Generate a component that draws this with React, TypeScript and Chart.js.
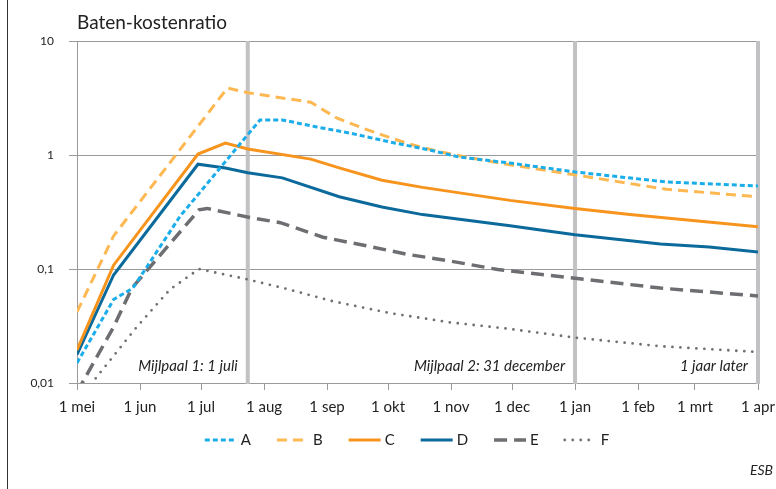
import React, { useEffect, useRef } from "react";
import { Chart, registerables } from "chart.js";

Chart.register(...registerables);

const monthDays = [0, 31, 61, 92, 123, 153, 184, 214, 245, 276, 304, 335];
const monthLabels = ["1 mei", "1 jun", "1 jul", "1 aug", "1 sep", "1 okt", "1 nov", "1 dec", "1 jan", "1 feb", "1 mrt", "1 apr"];
const yTickValues = [0.01, 0.1, 1, 10];
const yTickLabels = ["0,01", "0,1", "1", "10"];
const milestoneDays = [84, 245, 335];
const milestoneLabels = ["Mijlpaal 1: 1 juli", "Mijlpaal 2: 31 december", "1 jaar later"];
const seriesNames = ["A", "B", "C", "D", "E", "F"];

const daysA = [0, 18, 27.5, 50.7, 90, 101, 118, 134, 154, 174, 188, 213, 245, 290, 335];
const valuesA = [0.015, 0.054, 0.068, 0.29, 2.03, 2.03, 1.76, 1.56, 1.3, 1.1, 0.96, 0.85, 0.71, 0.58, 0.535];

const daysB = [0, 18, 74, 84, 115, 128, 143, 162, 177, 190, 213, 245, 290, 335];
const valuesB = [0.042, 0.195, 3.87, 3.52, 2.9, 2.1, 1.66, 1.27, 1.08, 0.97, 0.82, 0.67, 0.5, 0.43];

const daysC = [0, 18, 59.5, 73, 84, 115, 129, 150, 170, 213, 245, 272, 335];
const valuesC = [0.0195, 0.108, 1.02, 1.27, 1.13, 0.92, 0.77, 0.6, 0.52, 0.4, 0.34, 0.3, 0.235];

const daysD = [0, 18, 59.5, 73, 84, 101, 129, 150, 170, 213, 228, 245, 287, 311, 335];
const valuesD = [0.0177, 0.0886, 0.83, 0.77, 0.7, 0.63, 0.43, 0.35, 0.3, 0.24, 0.22, 0.2, 0.166, 0.156, 0.141];

const daysE = [0, 18, 27, 60, 64, 85, 100, 121, 143, 162, 184, 207, 245, 287, 335];
const valuesE = [0.0083, 0.031, 0.068, 0.33, 0.34, 0.283, 0.255, 0.19, 0.159, 0.135, 0.117, 0.099, 0.083, 0.068, 0.058];

const daysF = [0, 9.7, 29.4, 45.7, 60, 84, 103, 126, 154, 183.5, 211.5, 245, 287, 335];
const valuesF = [0.0065, 0.0113, 0.031, 0.066, 0.1, 0.081, 0.067, 0.052, 0.041, 0.034, 0.03, 0.025, 0.021, 0.0187];

const FONT = "Lato, 'Open Sans', sans-serif";

function pts(days: number[], vals: number[]) {
  return days.map((d, i) => ({ x: d, y: vals[i] }));
}

export default function App() {
  const ref = useRef<HTMLCanvasElement | null>(null);

  useEffect(() => {
    if (!ref.current) return;

    const overlay = {
      id: "overlay",
      beforeDatasetsDraw(chart: any) {
        const { ctx, chartArea, scales } = chart;
        ctx.save();
        milestoneDays.forEach((d, i) => {
          const px = scales.x.getPixelForValue(d);
          ctx.fillStyle = "#C2C2C4";
          ctx.fillRect(px - 2, chartArea.top, 4, chartArea.bottom - chartArea.top + 1);
          ctx.fillStyle = "#222";
          ctx.font = `italic 15px ${FONT}`;
          ctx.textAlign = "right";
          ctx.textBaseline = "middle";
          ctx.fillText(milestoneLabels[i], px - 10, chartArea.bottom - 17);
        });
        ctx.restore();
      },
      afterDraw(chart: any) {
        const { ctx, chartArea } = chart;
        ctx.save();
        // left frame line
        ctx.fillStyle = "#333";
        ctx.fillRect(7, 0, 1, chart.height);
        // title
        ctx.fillStyle = "#222";
        ctx.font = `19px ${FONT}`;
        ctx.textAlign = "left";
        ctx.textBaseline = "middle";
        ctx.fillText("Baten-kostenratio", chartArea.left, 23);
        // legend
        const ds = chart.data.datasets;
        ctx.font = `15px ${FONT}`;
        const sampleW = 32;
        const gap = 4;
        const spacing = 26;
        const widths = ds.map((d: any) => sampleW + gap + ctx.measureText(d.label).width);
        const total = widths.reduce((a: number, b: number) => a + b, 0) + spacing * (ds.length - 1);
        let x = 407 - total / 2;
        const y = 440;
        ds.forEach((d: any, i: number) => {
          ctx.save();
          ctx.strokeStyle = d.borderColor;
          ctx.lineWidth = d.borderWidth;
          ctx.lineCap = d.borderCapStyle || "butt";
          ctx.setLineDash(d.borderDash || []);
          ctx.beginPath();
          ctx.moveTo(x, y);
          ctx.lineTo(x + sampleW, y);
          ctx.stroke();
          ctx.restore();
          ctx.fillStyle = "#222";
          ctx.textAlign = "left";
          ctx.textBaseline = "middle";
          ctx.fillText(d.label, x + sampleW + gap, y);
          x += widths[i] + spacing;
        });
        // source
        ctx.font = `italic 14px ${FONT}`;
        ctx.textAlign = "right";
        ctx.fillText("ESB", 773, 470);
        ctx.restore();
      },
    };

    const chart = new Chart(ref.current, {
      type: "line",
      data: {
        datasets: [
          { label: seriesNames[0], data: pts(daysA, valuesA), borderColor: "#1AADEA", borderWidth: 3, borderDash: [5, 3] },
          { label: seriesNames[1], data: pts(daysB, valuesB), borderColor: "#FDB852", borderWidth: 3, borderDash: [10, 6] },
          { label: seriesNames[2], data: pts(daysC, valuesC), borderColor: "#F7941E", borderWidth: 3 },
          { label: seriesNames[3], data: pts(daysD, valuesD), borderColor: "#0B6A9B", borderWidth: 3 },
          { label: seriesNames[4], data: pts(daysE, valuesE), borderColor: "#6D6E71", borderWidth: 3.5, borderDash: [13, 7] },
          { label: seriesNames[5], data: pts(daysF, valuesF), borderColor: "#707073", borderWidth: 2.8, borderDash: [0, 8], borderCapStyle: "round" },
        ] as any,
      },
      options: {
        animation: false,
        responsive: false,
        devicePixelRatio: 1,
        parsing: false as any,
        layout: { padding: { left: 0, right: 18, top: 41, bottom: 66 } },
        elements: { point: { radius: 0 }, line: { tension: 0, fill: false } },
        plugins: { legend: { display: false }, tooltip: { enabled: false }, title: { display: false } },
        scales: {
          x: {
            type: "linear",
            min: 0,
            max: 335,
            afterBuildTicks: (s: any) => {
              s.ticks = monthDays.map((v) => ({ value: v }));
            },
            afterFit: (s: any) => {
              s.height = 40;
              s.paddingLeft = 0;
              s.paddingRight = 0;
            },
            ticks: {
              autoSkip: false,
              maxRotation: 0,
              padding: 8,
              color: "#222",
              font: { family: FONT, size: 15 },
              callback: (_v: any, i: number) => monthLabels[i],
            },
            grid: { drawOnChartArea: false, drawTicks: true, tickLength: 7, color: "#9A9A9A" },
            border: { display: true, color: "#9A9A9A" },
          },
          y: {
            type: "logarithmic",
            min: 0.01,
            max: 10,
            afterBuildTicks: (s: any) => {
              s.ticks = yTickValues.map((v) => ({ value: v }));
            },
            afterFit: (s: any) => {
              s.width = 77;
              s.paddingTop = 0;
              s.paddingBottom = 0;
            },
            ticks: {
              padding: 15,
              color: "#222",
              font: { family: FONT, size: 12 },
              callback: (_v: any, i: number) => yTickLabels[i],
            },
            grid: { color: "#9A9A9A", tickLength: 8, drawTicks: true },
            border: { display: true, color: "#9A9A9A" },
          },
        },
      },
      plugins: [overlay],
    });
    return () => chart.destroy();
  }, []);

  return (
    <div style={{ position: "fixed", left: 0, top: 0, width: 776, height: 489, background: "#fff" }}>
      <canvas ref={ref} width={776} height={489} style={{ width: 776, height: 489, display: "block" }} />
    </div>
  );
}
